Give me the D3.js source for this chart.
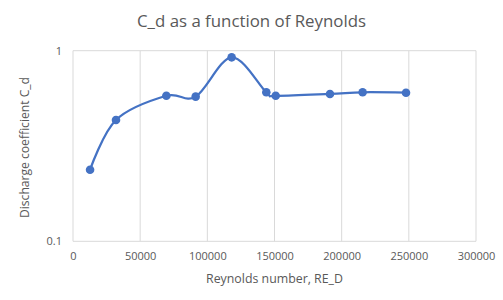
<!DOCTYPE html>
<html>
<head>
<meta charset="utf-8">
<script src="https://cdn.jsdelivr.net/npm/d3@7"></script>
<style>
	body { margin: 0; background: #fff; }
	text { font-family: "Open Sans", "Noto Sans", sans-serif; }
</style>
</head>
<body>
<div id="main"></div>
<script>
// data
const reynolds = [12700, 32000, 69500, 91300, 118100, 143900, 150900, 191300, 215600, 247900];
const cd = [0.2375, 0.433, 0.58, 0.574, 0.923, 0.605, 0.58, 0.593, 0.605, 0.602];
const xTicks = [0, 50000, 100000, 150000, 200000, 250000, 300000];
const yTicks = [0.1, 1];

const width = 503,
	height = 300;
const plot = { left: 73, right: 476, top: 50.7, bottom: 241.3 };
const grey = "#595959";

const svg = d3
	.select("#main")
	.append("svg")
	.attr("width", width)
	.attr("height", height);

const x = d3.scaleLinear().domain([0, 300000]).range([plot.left, plot.right]);
const y = d3.scaleLog().domain([0.1, 1]).range([plot.bottom, plot.top]);

// gridlines
svg.append("g")
	.selectAll("line.vgrid")
	.data(xTicks)
	.enter()
	.append("line")
	.attr("x1", (d) => x(d))
	.attr("x2", (d) => x(d))
	.attr("y1", plot.top)
	.attr("y2", plot.bottom)
	.style("stroke", "#d9d9d9")
	.style("stroke-width", 1);

svg.append("g")
	.selectAll("line.hgrid")
	.data(yTicks)
	.enter()
	.append("line")
	.attr("x1", plot.left)
	.attr("x2", plot.right)
	.attr("y1", (d) => y(d))
	.attr("y2", (d) => y(d))
	.style("stroke", "#d9d9d9")
	.style("stroke-width", 1);

// axes (labels only, lines come from the grid)
const xAxis = svg
	.append("g")
	.attr("transform", `translate(0,${plot.bottom})`)
	.call(d3.axisBottom(x).tickValues(xTicks).tickSize(0).tickPadding(11).tickFormat(d3.format("d")));
xAxis.select(".domain").remove();
xAxis.selectAll("text").style("fill", grey).style("font-size", "11px").style("font-family", "Open Sans, sans-serif");

const yAxis = svg
	.append("g")
	.attr("transform", `translate(${plot.left},0)`)
	.call(d3.axisLeft(y).tickValues(yTicks).tickSize(0).tickPadding(11).tickFormat((d) => String(d)));
yAxis.select(".domain").remove();
yAxis.selectAll("text").style("fill", grey).style("font-size", "11px").style("font-family", "Open Sans, sans-serif");

// line
const line = d3
	.line()
	.x((d, i) => x(reynolds[i]))
	.y((d) => y(d))
	.curve(d3.curveCardinal.tension(0));

svg.append("path")
	.datum(cd)
	.attr("d", line)
	.style("fill", "none")
	.style("stroke", "#4472c4")
	.style("stroke-width", 2.25);

svg.append("g")
	.selectAll("circle")
	.data(cd)
	.enter()
	.append("circle")
	.attr("cx", (d, i) => x(reynolds[i]))
	.attr("cy", (d) => y(d))
	.attr("r", 4.3)
	.style("fill", "#4472c4");

// titles
svg.append("text")
	.attr("x", width / 2)
	.attr("y", 27)
	.attr("text-anchor", "middle")
	.attr("textLength", 229)
	.attr("lengthAdjust", "spacingAndGlyphs")
	.style("fill", grey)
	.style("font-size", "17px")
	.text("C_d as a function of Reynolds");

svg.append("text")
	.attr("x", (plot.left + plot.right) / 2)
	.attr("y", 283)
	.attr("text-anchor", "middle")
	.attr("textLength", 137)
	.attr("lengthAdjust", "spacingAndGlyphs")
	.style("fill", grey)
	.style("font-size", "12.5px")
	.text("Reynolds number, RE_D");

svg.append("text")
	.attr("transform", `translate(29,147.5) rotate(-90)`)
	.attr("text-anchor", "middle")
	.attr("textLength", 141)
	.attr("lengthAdjust", "spacingAndGlyphs")
	.style("fill", grey)
	.style("font-size", "12.5px")
	.text("Discharge coefficient C_d");
</script>
</body>
</html>
